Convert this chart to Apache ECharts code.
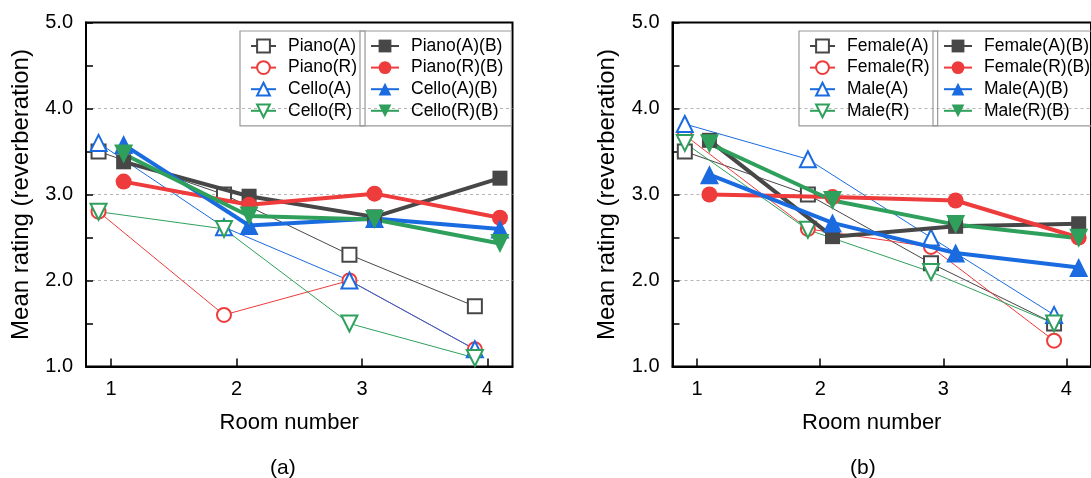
<!DOCTYPE html>
<html>
<head>
<meta charset="utf-8">
<script src="https://cdn.jsdelivr.net/npm/echarts@6/dist/echarts.min.js"></script>
<style>
  html, body { margin: 0; padding: 0; background: #fff; }
  #chart { width: 1091px; height: 478px; }
</style>
</head>
<body>
<div id="chart"></div>
<script>
// room numbers, open markers sit left of the tick, filled ones right of it
const rooms = [1, 2, 3, 4];
const shift = 0.1;

// panel (a)
const pianoA = [3.5, 3.0, 2.3, 1.7];
const pianoR = [2.8, 1.6, 2.0, 1.2];
const celloA = [3.6, 2.62, 2.0, 1.2];
const celloR = [2.8, 2.6, 1.5, 1.1];
const pianoAB = [3.38, 2.98, 2.74, 3.19];
const pianoRB = [3.15, 2.88, 3.01, 2.73];
const celloAB = [3.58, 2.64, 2.72, 2.6];
const celloRB = [3.47, 2.75, 2.71, 2.43];

// panel (b)
const femaleA = [3.5, 3.0, 2.2, 1.5];
const femaleR = [3.69, 2.6, 2.39, 1.3];
const maleA = [3.82, 3.41, 2.5, 1.6];
const maleR = [3.6, 2.59, 2.1, 1.5];
const femaleAB = [3.63, 2.51, 2.63, 2.66];
const femaleRB = [3.0, 2.97, 2.93, 2.5];
const maleAB = [3.23, 2.67, 2.32, 2.15];
const maleRB = [3.59, 2.93, 2.65, 2.49];

const yTicks = [1, 2, 3, 4, 5];

const gray = '#474747';
const red = '#EE3B3B';
const blue = '#1A6BE0';
const green = '#2FA05C';
const font = "'Liberation Sans', Arial, sans-serif";

const pts = (vals, dx) => vals.map((v, i) => [rooms[i] + dx, v]);

// thin line + hollow marker
const openLine = (name, vals, color, symbol, rot, idx) => ({
  name, type: 'line', xAxisIndex: idx, yAxisIndex: idx,
  data: pts(vals, -shift),
  symbol, symbolSize: symbol === 'emptyTriangle' ? 16 : 14, symbolRotate: rot,
  color,
  lineStyle: { width: 1, color },
  itemStyle: { color, borderWidth: 2 },
  z: 2
});

// thick line + filled marker
const fillLine = (name, vals, color, symbol, rot, idx) => ({
  name, type: 'line', xAxisIndex: idx, yAxisIndex: idx,
  data: pts(vals, shift),
  symbol, symbolSize: symbol === 'triangle' ? 19 : (symbol === 'circle' ? 16 : 15), symbolRotate: rot,
  color,
  lineStyle: { width: 4, color },
  itemStyle: { color },
  z: 3
});

const xAxisFor = (idx) => ({
  type: 'value', gridIndex: idx, min: 0.8, max: 4.2,
  name: 'Room number', nameLocation: 'middle', nameGap: 45,
  nameTextStyle: { fontSize: 22, color: '#000', fontFamily: font, padding: [0, 20, 0, 0] },
  axisLine: { show: true, lineStyle: { color: '#000', width: 2 } },
  axisTick: { show: true, inside: true, length: 8, customValues: rooms, lineStyle: { color: '#000', width: 1.5 } },
  axisLabel: { customValues: rooms, fontSize: 20, color: '#000', fontFamily: font, margin: 13 },
  splitLine: { show: false }
});

const yAxisFor = (idx) => ({
  type: 'value', gridIndex: idx, min: 1, max: 5, interval: 1,
  name: 'Mean rating (reverberation)', nameLocation: 'middle', nameGap: 53,
  nameTextStyle: { fontSize: 24, color: '#000', fontFamily: font },
  axisLine: { show: true, lineStyle: { color: '#000', width: 2 } },
  axisTick: { show: true, inside: true, length: 7, lineStyle: { color: '#000', width: 1.5 } },
  minorTick: { show: true, splitNumber: 2, length: 7, lineStyle: { color: '#000', width: 1.5 } },
  axisLabel: { customValues: yTicks, fontSize: 20, color: '#000', fontFamily: font, margin: 13,
    formatter: v => v.toFixed(1) },
  splitLine: { show: true, showMinLine: false, showMaxLine: false,
    lineStyle: { color: '#b5b5b5', type: [3, 3], width: 1 } }
});

const legendBox = (left, names, iconW) => ({
  left, top: 31, orient: 'vertical',
  padding: [6, 8, 6, 10],
  itemWidth: iconW, itemHeight: 16, itemGap: 3.6,
  borderColor: '#999', borderWidth: 1.2,
  data: names,
  textStyle: { fontSize: 17.5, color: '#000', fontFamily: font, padding: [0, 0, 0, 7] }
});

const chart = echarts.init(document.getElementById('chart'), null, { renderer: 'canvas' });
chart.setOption({
  backgroundColor: '#fff',
  animation: false,
  title: [
    { text: '(a)', left: 270, top: 458, padding: 0, textStyle: { fontSize: 21, fontWeight: 'normal', color: '#000', fontFamily: font } },
    { text: '(b)', left: 850, top: 458, padding: 0, textStyle: { fontSize: 21, fontWeight: 'normal', color: '#000', fontFamily: font } }
  ],
  grid: [
    { left: 86, top: 22.5, width: 426.5, height: 344, show: true, borderColor: '#000', borderWidth: 2, backgroundColor: 'transparent' },
    { left: 672.5, top: 22.5, width: 427, height: 344, show: true, borderColor: '#000', borderWidth: 2, backgroundColor: 'transparent' }
  ],
  xAxis: [xAxisFor(0), xAxisFor(1)],
  yAxis: [yAxisFor(0), yAxisFor(1)],
  legend: [
    legendBox(240, ['Piano(A)', 'Piano(R)', 'Cello(A)', 'Cello(R)'], 25),
    legendBox(360, ['Piano(A)(B)', 'Piano(R)(B)', 'Cello(A)(B)', 'Cello(R)(B)'], 28),
    legendBox(799, ['Female(A)', 'Female(R)', 'Male(A)', 'Male(R)'], 25),
    legendBox(933, ['Female(A)(B)', 'Female(R)(B)', 'Male(A)(B)', 'Male(R)(B)'], 28)
  ],
  series: [
    openLine('Piano(A)', pianoA, gray, 'emptyRect', 0, 0),
    openLine('Piano(R)', pianoR, red, 'emptyCircle', 0, 0),
    openLine('Cello(A)', celloA, blue, 'emptyTriangle', 0, 0),
    openLine('Cello(R)', celloR, green, 'emptyTriangle', 180, 0),
    fillLine('Piano(A)(B)', pianoAB, gray, 'rect', 0, 0),
    fillLine('Piano(R)(B)', pianoRB, red, 'circle', 0, 0),
    fillLine('Cello(A)(B)', celloAB, blue, 'triangle', 0, 0),
    fillLine('Cello(R)(B)', celloRB, green, 'triangle', 180, 0),

    openLine('Female(A)', femaleA, gray, 'emptyRect', 0, 1),
    openLine('Female(R)', femaleR, red, 'emptyCircle', 0, 1),
    openLine('Male(A)', maleA, blue, 'emptyTriangle', 0, 1),
    openLine('Male(R)', maleR, green, 'emptyTriangle', 180, 1),
    fillLine('Female(A)(B)', femaleAB, gray, 'rect', 0, 1),
    fillLine('Female(R)(B)', femaleRB, red, 'circle', 0, 1),
    fillLine('Male(A)(B)', maleAB, blue, 'triangle', 0, 1),
    fillLine('Male(R)(B)', maleRB, green, 'triangle', 180, 1)
  ]
});
</script>
</body>
</html>
